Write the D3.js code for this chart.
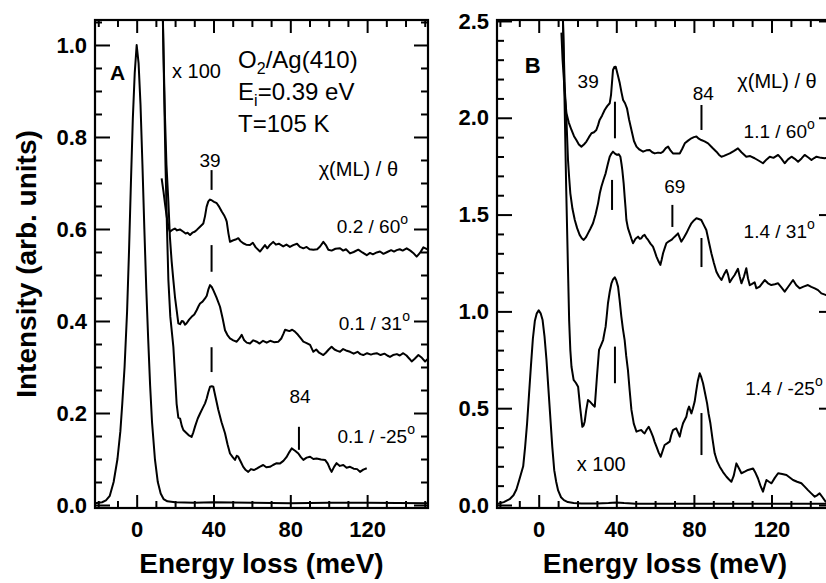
<!DOCTYPE html>
<html><head><meta charset="utf-8">
<script src="https://cdn.jsdelivr.net/npm/d3@7"></script>
<style>
body{margin:0;background:#fff;}
text{font-family:"Liberation Sans",Arial,Helvetica,sans-serif;fill:#000;}
</style></head><body>
<script>
// ---------- DATA (energy loss meV, intensity) ----------
const xMajorTicks = [0, 40, 80, 120];
const xMinorTicks = [-20, -10, 10, 20, 30, 50, 60, 70, 90, 100, 110, 130, 140, 150];
const yMajorTicksA = [0, 0.2, 0.4, 0.6, 0.8, 1.0];
const yMinorTicksA = [0.05,0.1,0.15,0.25,0.3,0.35,0.45,0.5,0.55,0.65,0.7,0.75,0.85,0.9,0.95,1.05];
const yMajorTicksB = [0, 0.5, 1.0, 1.5, 2.0, 2.5];
const yMinorTicksB = [0.1,0.2,0.3,0.4,0.6,0.7,0.8,0.9,1.1,1.2,1.3,1.4,1.6,1.7,1.8,1.9,2.1,2.2,2.3,2.4];

const elasticA = [[-21.7,0.004],[-18,0.006],[-16,0.01],[-14,0.02],[-12,0.05],[-10,0.1],[-8.5,0.16],[-7.5,0.22],[-6.3,0.3],[-5,0.42],[-4,0.55],[-3,0.7],[-2,0.84],[-1,0.94],[0,1.0],[1,0.96],[2,0.87],[3,0.74],[4,0.6],[5,0.47],[6,0.36],[7,0.26],[8,0.18],[9.5,0.1],[11,0.05],[12.5,0.025],[14,0.013],[16,0.008],[20,0.006],[30,0.005],[40,0.006],[60,0.005],[80,0.004],[100,0.005],[120,0.005],[151.7,0.004]];

const specA60 = [[13.0,0.710],[14.0,0.680],[14.7,0.656],[15.6,0.628],[16.5,0.605],[17.3,0.594],[18.5,0.598],[19.9,0.601],[21,0.597],[22.5,0.599],[24.3,0.594],[25.5,0.590],[26.5,0.592],[27.8,0.587],[29,0.592],[30.2,0.594],[31.3,0.598],[33,0.605],[34.7,0.612],[35.6,0.628],[36.4,0.648],[37.3,0.660],[38.2,0.664],[39.2,0.662],[40.3,0.659],[41.7,0.656],[43,0.648],[44.3,0.638],[45.5,0.630],[46.4,0.622],[46.9,0.616],[47.8,0.590],[48.6,0.572],[50,0.575],[51.5,0.577],[52.9,0.580],[54,0.574],[55.5,0.569],[57,0.566],[59,0.565],[60.5,0.570],[62,0.560],[64.2,0.551],[65.5,0.558],[66.8,0.565],[68,0.558],[69.5,0.566],[71.1,0.572],[72.5,0.566],[74,0.568],[76.3,0.562],[78,0.566],[79.8,0.561],[81.5,0.565],[83.5,0.568],[85,0.561],[86.8,0.558],[88.5,0.561],[90,0.556],[92,0.555],[94,0.556],[95.5,0.562],[97.2,0.572],[98.5,0.565],[99.8,0.555],[101.5,0.553],[103.5,0.557],[105.9,0.558],[107.5,0.553],[109,0.556],[111.1,0.547],[113,0.550],[115.4,0.555],[117.5,0.549],[119.8,0.543],[121.5,0.548],[123,0.545],[125,0.549],[126.7,0.551],[128.5,0.546],[130.5,0.550],[132.5,0.554],[134,0.551],[135.4,0.554],[137,0.556],[138.5,0.553],[140.6,0.558],[142.5,0.553],[144,0.548],[145.8,0.540],[147.5,0.548],[149.3,0.560],[151.7,0.555]];

const specA31 = [[13.3,1.12],[14.0,0.98],[14.7,0.85],[15.5,0.74],[16.5,0.66],[17.3,0.583],[18.2,0.53],[19.1,0.489],[20,0.45],[20.8,0.424],[21.7,0.395],[22.6,0.393],[23.5,0.40],[24.3,0.399],[25.2,0.392],[26,0.395],[27.3,0.403],[28.6,0.409],[30,0.414],[31.3,0.424],[32.2,0.432],[33,0.438],[34.3,0.442],[35.6,0.449],[36.5,0.455],[37.3,0.468],[38.2,0.478],[39.1,0.474],[39.9,0.467],[41.5,0.452],[43.4,0.431],[44.8,0.405],[46,0.380],[47.2,0.370],[48.6,0.362],[50.3,0.358],[52.1,0.355],[53.5,0.362],[54.7,0.370],[56,0.358],[57.3,0.353],[59,0.351],[60.7,0.358],[62.5,0.355],[64,0.351],[65.8,0.357],[67.7,0.353],[69.5,0.357],[71.5,0.354],[73.8,0.355],[75.3,0.362],[76.4,0.372],[77.3,0.381],[78.1,0.380],[79.5,0.378],[81,0.381],[82.4,0.377],[84,0.370],[85.5,0.362],[86.8,0.355],[88.5,0.352],[90.3,0.348],[91.2,0.340],[92,0.333],[93.5,0.338],[95,0.331],[97.2,0.326],[98.5,0.331],[100,0.338],[101.5,0.344],[103,0.338],[104.5,0.335],[105.9,0.333],[107.5,0.339],[109,0.336],[111.1,0.333],[113,0.329],[115,0.333],[116.5,0.328],[118,0.326],[120,0.330],[122,0.327],[123.5,0.329],[125,0.330],[127,0.326],[129,0.329],[130.5,0.325],[131.9,0.322],[133.5,0.326],[135.5,0.328],[137,0.325],[138.8,0.330],[140.5,0.325],[142,0.318],[143.2,0.312],[144.8,0.318],[146.7,0.326],[148.5,0.320],[150.2,0.312],[151.7,0.318]];

const specAm25 = [[13.5,1.10],[14.3,0.90],[15.0,0.74],[15.8,0.60],[16.5,0.49],[17.5,0.41],[19.1,0.344],[20.0,0.28],[20.8,0.22],[21.7,0.19],[22.6,0.188],[23.5,0.172],[24.3,0.163],[25.5,0.158],[27,0.152],[28.6,0.148],[29.5,0.158],[30.5,0.172],[31.8,0.188],[33,0.199],[34.3,0.210],[35.6,0.221],[36.5,0.232],[37.3,0.245],[38.2,0.257],[39.1,0.258],[39.9,0.257],[41.2,0.232],[42.5,0.207],[44.2,0.180],[46,0.156],[47.3,0.132],[48.6,0.112],[50,0.104],[51.2,0.098],[52.1,0.107],[52.9,0.105],[54.2,0.094],[55.5,0.083],[56.8,0.076],[58.1,0.072],[59.5,0.078],[61,0.076],[62.5,0.079],[64,0.083],[65.9,0.087],[67.5,0.082],[69.4,0.083],[71,0.087],[72.9,0.091],[74.5,0.090],[76.4,0.096],[78,0.104],[79.5,0.115],[80.7,0.123],[82.5,0.118],[84.2,0.112],[85.5,0.104],[86.8,0.098],[88.5,0.103],[90.3,0.105],[92,0.100],[93.7,0.101],[96,0.099],[98.1,0.098],[99.5,0.090],[100.5,0.080],[101.5,0.072],[102.8,0.083],[104.1,0.091],[105.8,0.085],[107.6,0.087],[109.3,0.081],[111.1,0.083],[113,0.079],[114.8,0.078],[116.3,0.072],[118,0.077],[119.8,0.080]];

const elasticB = [[-21.5,0.005],[-18,0.015],[-15,0.03],[-13,0.05],[-11.5,0.08],[-10,0.13],[-8,0.2],[-7,0.3],[-6,0.42],[-5,0.57],[-4,0.72],[-3,0.86],[-2,0.95],[-1,0.99],[0,1.005],[1,0.99],[2,0.955],[3,0.87],[4,0.75],[5,0.6],[6,0.45],[7,0.3],[8,0.18],[9,0.12],[10,0.075],[11.5,0.04],[13,0.025],[15,0.015],[18,0.01],[22,0.008],[30,0.008],[36,0.01],[40,0.013],[44,0.01],[50,0.007],[60,0.006],[80,0.007],[100,0.006],[120,0.006],[151.7,0.006]];

const specB60 = [[11.7,2.44],[12.3,2.30],[12.9,2.21],[13.6,2.10],[14.3,2.023],[15.5,1.975],[16.9,1.937],[18.2,1.905],[19.4,1.885],[20.7,1.862],[22,1.851],[23.3,1.862],[24.6,1.877],[25.9,1.900],[27.2,1.920],[28.5,1.925],[29.7,1.937],[30.6,1.962],[31.4,1.989],[32.7,2.012],[34,2.040],[35.3,2.060],[36.6,2.075],[37.3,2.12],[38.3,2.247],[39.0,2.262],[39.7,2.264],[40.8,2.22],[41.8,2.178],[42.7,2.13],[43.5,2.092],[44.5,2.075],[45.5,2.049],[46.6,1.99],[47.8,1.937],[49.1,1.88],[50.4,1.851],[52,1.835],[53.8,1.825],[55.5,1.832],[57.2,1.833],[58.5,1.822],[59.8,1.816],[61.5,1.820],[63,1.818],[64.1,1.825],[65.5,1.843],[66.7,1.851],[68,1.830],[69.2,1.816],[71,1.815],[72.7,1.816],[74,1.840],[75.3,1.868],[77,1.882],[78.7,1.894],[80,1.900],[81.3,1.903],[82.5,1.892],[83.8,1.885],[85.5,1.878],[87.3,1.868],[89.5,1.845],[91.6,1.825],[93,1.808],[94.2,1.799],[95.5,1.803],[97,1.810],[98.5,1.816],[100.5,1.828],[102.7,1.842],[104.5,1.822],[107,1.799],[109,1.802],[111.3,1.791],[113.5,1.778],[115.6,1.765],[117.5,1.785],[119.1,1.799],[121,1.793],[123.4,1.808],[125,1.790],[126.8,1.765],[128.5,1.785],[130.3,1.799],[132,1.788],[133.7,1.773],[135.5,1.790],[137.1,1.808],[139,1.795],[140.6,1.782],[142,1.792],[143.2,1.799],[145.5,1.793],[147.4,1.791],[149.5,1.795],[151.7,1.798]];

const specB31 = [[12.4,2.55],[12.9,2.35],[13.4,2.16],[14.3,1.989],[15.1,1.782],[15.7,1.69],[16.3,1.61],[17.4,1.53],[18.6,1.472],[19.8,1.43],[21.1,1.395],[22.2,1.378],[23.2,1.369],[24.3,1.382],[25.4,1.403],[26.7,1.428],[28,1.455],[29.3,1.50],[30.6,1.558],[31.5,1.61],[32.3,1.644],[33.4,1.68],[34.5,1.713],[35.6,1.76],[36.6,1.799],[37.5,1.815],[38.3,1.825],[39.3,1.815],[40.4,1.808],[41.3,1.812],[42.1,1.799],[42.7,1.76],[43.1,1.730],[43.8,1.66],[44.3,1.593],[44.8,1.53],[45.2,1.472],[46,1.43],[46.9,1.403],[47.8,1.375],[48.6,1.352],[49.9,1.375],[51.2,1.386],[52.1,1.375],[52.9,1.378],[53.7,1.39],[54.6,1.395],[55.5,1.380],[56.4,1.369],[57.6,1.350],[58.9,1.334],[59.8,1.31],[60.7,1.283],[61.7,1.26],[62.7,1.240],[63.4,1.268],[64.1,1.300],[65,1.328],[65.8,1.352],[67.1,1.362],[68.4,1.369],[69.2,1.377],[70.1,1.386],[71,1.394],[71.8,1.403],[72.7,1.380],[73.5,1.360],[74.8,1.380],[76.1,1.403],[77.4,1.430],[78.7,1.455],[80,1.470],[81.3,1.481],[82.5,1.477],[83.8,1.472],[85,1.448],[86.4,1.420],[87.7,1.36],[89,1.300],[90.3,1.25],[91.6,1.205],[92.9,1.18],[94.2,1.162],[95.5,1.19],[96.8,1.214],[97.6,1.19],[98.5,1.150],[99.7,1.170],[101,1.188],[102.7,1.220],[103.6,1.18],[104.5,1.145],[105.8,1.18],[107,1.223],[107.9,1.17],[108.8,1.135],[110,1.142],[111.3,1.150],[112.2,1.119],[113.9,1.128],[115.2,1.145],[116.5,1.162],[118.2,1.145],[119.9,1.136],[121.7,1.140],[123.4,1.145],[125,1.125],[126.8,1.102],[128.8,1.130],[131.1,1.162],[132.8,1.135],[134.5,1.119],[136.5,1.128],[138.8,1.136],[140.5,1.127],[142.3,1.119],[144,1.110],[145.7,1.093],[147.9,1.085],[149.8,1.082],[151.7,1.080]];

const specBm25 = [[12.4,2.55],[13.3,2.10],[14.2,1.62],[15.1,1.214],[15.7,0.95],[16.3,0.80],[16.9,0.714],[18.0,0.646],[19.2,0.630],[20.3,0.611],[21.4,0.50],[22.5,0.404],[23.1,0.41],[23.7,0.430],[24.5,0.49],[25.4,0.542],[26.3,0.535],[27.2,0.525],[28.1,0.515],[28.9,0.508],[30.0,0.66],[31.1,0.801],[32.1,0.825],[33.2,0.852],[33.9,0.89],[34.5,0.921],[35.1,0.98],[35.7,1.042],[36.6,1.10],[37.5,1.145],[38.3,1.165],[39.2,1.176],[40.0,1.160],[40.9,1.128],[41.7,1.06],[42.6,0.973],[43.4,0.91],[44.3,0.852],[45.1,0.77],[46,0.697],[46.9,0.59],[47.8,0.491],[49,0.42],[50.4,0.379],[51.7,0.384],[52.9,0.387],[53.8,0.376],[54.6,0.370],[55.7,0.39],[56.7,0.404],[57.8,0.38],[58.9,0.353],[59.8,0.325],[60.7,0.301],[61.8,0.272],[62.9,0.249],[63.9,0.28],[64.9,0.310],[66.2,0.318],[67.5,0.327],[68.3,0.36],[69.2,0.387],[70.1,0.392],[70.9,0.396],[71.8,0.375],[72.7,0.353],[73.5,0.39],[74.4,0.422],[75.3,0.44],[76.1,0.456],[76.8,0.49],[77.5,0.508],[78.1,0.49],[78.7,0.473],[79.5,0.50],[80.4,0.534],[81.2,0.59],[82.0,0.64],[83.0,0.680],[83.8,0.66],[84.7,0.629],[85.7,0.58],[86.8,0.525],[87.6,0.47],[88.5,0.422],[89.6,0.34],[90.7,0.267],[92,0.225],[93.3,0.198],[95,0.17],[96.8,0.146],[98,0.133],[99.3,0.120],[100.5,0.15],[101.9,0.215],[103.2,0.19],[104.5,0.164],[106.2,0.172],[107.9,0.181],[109.2,0.185],[110.5,0.189],[111.8,0.165],[113,0.138],[114.3,0.10],[115.6,0.069],[116.5,0.10],[117.4,0.129],[118.7,0.12],[120,0.112],[121.7,0.14],[123.4,0.164],[125.5,0.160],[127.7,0.155],[129.4,0.142],[131.1,0.129],[133.2,0.12],[135.4,0.112],[137.1,0.095],[138.8,0.077],[140.5,0.06],[142.3,0.043],[143.5,0.05],[144.8,0.060],[146.3,0.04],[147.9,0.017],[150,0.02],[151.7,0.015]];

// peak marker dashes: [energy, v0, v1]
const markersA = [[39,0.685,0.728],[39,0.507,0.565],[39,0.289,0.343],[84.5,0.120,0.170]];
const markersB = [[39.3,1.894,2.083],[37.8,1.524,1.679],[39.3,0.629,0.818],[83.9,1.937,2.066],[83.9,1.229,1.379],[83.9,0.258,0.475],[68.9,1.436,1.550]];

// ---------- DRAWING ----------
const W = 826, H = 583;
const svg = d3.select("body").append("svg").attr("width", W).attr("height", H);
const TOP = 20, PH = 488;

function panel(cfg) {
  const g = svg.append("g").attr("transform", `translate(${cfg.left},${TOP})`);
  const x = d3.scaleLinear().domain(cfg.xDomain).range([0, cfg.width]);
  const y = d3.scaleLinear().domain(cfg.yDomain).range([PH, 0]);
  const clipId = "clip" + cfg.name;
  g.append("clipPath").attr("id", clipId).append("rect").attr("width", cfg.width).attr("height", PH);

  const axStyle = sel => {
    sel.select(".domain").remove();
    sel.selectAll(".tick line").attr("stroke", "#000").attr("stroke-width", 2);
  };
  const boldLabels = s => s.selectAll("text").style("font-size", "22px").style("font-weight", "bold")
      .style("font-family", '"Liberation Sans",Arial,sans-serif');
  // bottom
  g.append("g").attr("transform", `translate(0,${PH})`)
    .call(d3.axisBottom(x).tickValues(xMajorTicks).tickSize(-13).tickFormat(d3.format("d")))
    .call(axStyle).call(boldLabels)
    .call(s => s.selectAll("text").attr("y", 29).attr("dy", 0));
  g.append("g").attr("transform", `translate(0,${PH})`)
    .call(d3.axisBottom(x).tickValues(xMinorTicks).tickSize(-7).tickFormat(""))
    .call(axStyle);
  // top
  g.append("g").call(d3.axisTop(x).tickValues(xMajorTicks).tickSize(-13).tickFormat("")).call(axStyle);
  g.append("g").call(d3.axisTop(x).tickValues(xMinorTicks).tickSize(-7).tickFormat("")).call(axStyle);
  // left
  g.append("g")
    .call(d3.axisLeft(y).tickValues(cfg.yMajor).tickSize(-15).tickPadding(8).tickFormat(d3.format(".1f")))
    .call(axStyle).call(boldLabels);
  g.append("g").call(d3.axisLeft(y).tickValues(cfg.yMinor).tickSize(-7).tickFormat("")).call(axStyle);
  // right
  g.append("g").attr("transform", `translate(${cfg.width},0)`)
    .call(d3.axisRight(y).tickValues(cfg.yMajor).tickSize(-14).tickFormat("")).call(axStyle);
  g.append("g").attr("transform", `translate(${cfg.width},0)`)
    .call(d3.axisRight(y).tickValues(cfg.yMinor).tickSize(-7).tickFormat("")).call(axStyle);

  // curves
  const line = d3.line().x(d => x(d[0])).y(d => y(d[1]));
  const cg = g.append("g").attr("clip-path", `url(#${clipId})`);
  cfg.series.forEach(s => {
    cg.append("path").datum(s).attr("d", line).attr("fill", "none")
      .attr("stroke", "#000").attr("stroke-width", 2).attr("stroke-linejoin", "round");
  });
  // markers
  cfg.markers.forEach(m => {
    g.append("line").attr("x1", x(m[0])).attr("x2", x(m[0])).attr("y1", y(m[1])).attr("y2", y(m[2]))
      .attr("stroke", "#000").attr("stroke-width", 2);
  });
  // frame
  g.append("rect").attr("width", cfg.width).attr("height", PH).attr("fill", "none")
    .attr("stroke", "#000").attr("stroke-width", 2.2);

  // x title
  g.append("text").attr("x", cfg.width / 2).attr("y", 553).attr("text-anchor", "middle")
    .style("font-size", "28px").style("font-weight", "bold").text("Energy loss (meV)");

  // labels
  const txt = (E, v, str, anchor, size, bold) =>
    g.append("text").attr("x", x(E)).attr("y", y(v)).attr("text-anchor", anchor || "start")
      .style("font-size", (size || 19) + "px").style("font-weight", bold ? "bold" : "normal").text(str);
  const deg = (E, v, str) => {
    const t = txt(E, v, str, "end");
    t.append("tspan").attr("dy", -9).style("font-size", "14px").text("o");
  };
  cfg.labels(txt, deg, g, x, y);
}

panel({
  name: "A", left: 95, width: 333, xDomain: [-21.7, 151.7], yDomain: [-0.0065, 1.0543],
  yMajor: yMajorTicksA, yMinor: yMinorTicksA,
  series: [elasticA, specA60, specA31, specAm25], markers: markersA,
  labels: (txt, deg, g, x, y) => {
    txt(-13.9, 0.924, "A", "start", 21, true);
    txt(18.4, 0.928, "x 100", "start", 20);
    const t1 = txt(52.8, 0.950, "O", "start", 24);
    t1.append("tspan").attr("dy", 6).style("font-size", "16px").text("2");
    t1.append("tspan").attr("dy", -6).text("/Ag(410)");
    const t2 = txt(52.8, 0.880, "E", "start", 24);
    t2.append("tspan").attr("dy", 6).style("font-size", "16px").text("i");
    t2.append("tspan").attr("dy", -6).text("=0.39 eV");
    txt(52.8, 0.811, "T=105 K", "start", 24);
    txt(38.2, 0.735, "39", "middle");
    txt(85.1, 0.222, "84", "middle");
    txt(136.1, 0.715, "χ(ML) / θ", "end", 20);
    deg(141.3, 0.591, "0.2 / 60");
    deg(142.3, 0.380, "0.1 / 31");
    deg(144.9, 0.135, "0.1 / -25");
  }
});

panel({
  name: "B", left: 497, width: 336, xDomain: [-21.5, 151.7], yDomain: [-0.0155, 2.505],
  yMajor: yMajorTicksB, yMinor: yMinorTicksB,
  series: [elasticB, specB60, specB31, specBm25], markers: markersB,
  labels: (txt, deg, g, x, y) => {
    txt(-7.2, 2.231, "B", "start", 22, true);
    txt(25.5, 2.154, "39", "middle");
    txt(84.8, 2.092, "84", "middle");
    txt(70.1, 1.612, "69", "middle");
    txt(143.3, 2.154, "χ(ML) / θ", "end", 20);
    deg(142.3, 1.896, "1.1 / 60");
    deg(142.3, 1.379, "1.4 / 31");
    deg(146.4, 0.568, "1.4 / -25");
    txt(19.6, 0.176, "x 100", "start", 20);
  }
});

// y title
svg.append("text").attr("transform", "translate(36,264) rotate(-90)").attr("text-anchor", "middle")
  .style("font-size", "28px").style("font-weight", "bold").text("Intensity (arb. units)");
</script>
</body></html>
